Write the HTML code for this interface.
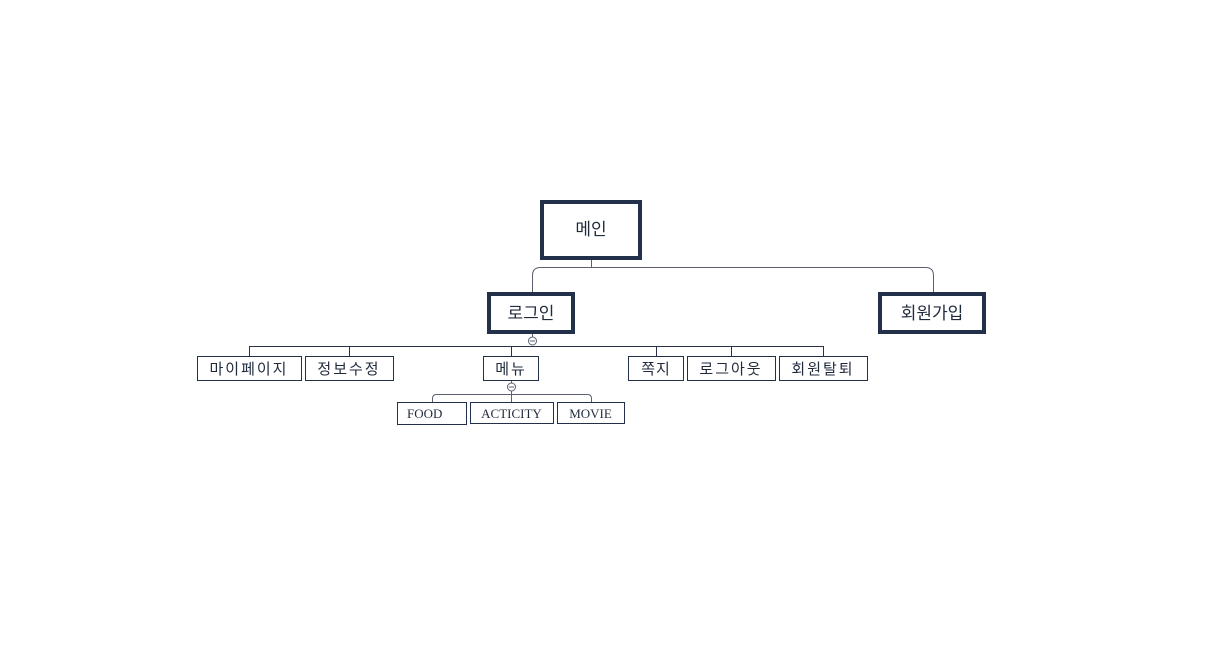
<!DOCTYPE html>
<html><head><meta charset="utf-8"><style>
html,body{margin:0;padding:0;background:#fff;}
svg{display:block}
.k{font-family:"Liberation Sans","Noto Sans CJK KR","NanumGothic",sans-serif;fill:#1f2a3c;}
.e{font-family:"Liberation Serif",serif;fill:#1f2a3c;}
</style></head><body>
<svg width="1217" height="670" viewBox="0 0 1217 670" xmlns="http://www.w3.org/2000/svg">
<g fill="none" stroke="#5a6070" stroke-width="1">
<path d="M591.5 260 V267.5"/>
<path d="M532.5 292 V275.5 Q532.5 267.5 540.5 267.5 H925.5 Q933.5 267.5 933.5 275.5 V292"/>
<path d="M532.5 334 V337"/>
<path d="M249.5 356 V346.5 H823.5 V356" stroke="#2a3345"/>
<path d="M349.5 346 V356 M511.5 346 V356 M656.5 346 V356 M731.5 346 V356" stroke="#2a3345"/>
<circle cx="532.5" cy="341" r="4" fill="#fff"/>
<path d="M530 341 H535"/>
<path d="M511.5 380 V383"/>
<circle cx="511.5" cy="387" r="4" fill="#fff"/>
<path d="M509 387 H514"/>
<path d="M432.5 402 V398.5 Q432.5 394.5 436.5 394.5 H587.5 Q591.5 394.5 591.5 398.5 V402 M511.5 391 V402"/>
</g>
<g fill="#fff" stroke="#233049" stroke-width="4">
<rect x="542" y="202" width="98" height="56"/>
<rect x="489" y="294" width="84" height="38"/>
<rect x="880" y="294" width="104" height="38"/>
</g>
<g fill="#fff" stroke="#233049" stroke-width="1">
<rect x="197.5" y="356.5" width="104" height="24"/>
<rect x="305.5" y="356.5" width="88" height="24"/>
<rect x="483.5" y="356.5" width="55" height="24"/>
<rect x="628.5" y="356.5" width="55" height="24"/>
<rect x="687.5" y="356.5" width="88" height="24"/>
<rect x="779.5" y="356.5" width="88" height="24"/>
<rect x="397.5" y="402.5" width="69" height="22"/>
<rect x="470.5" y="402.5" width="83" height="21"/>
<rect x="557.5" y="402.5" width="67" height="21"/>
</g>
<g class="k" text-anchor="middle">
<text x="591" y="235" font-size="17">메인</text>
<text x="531" y="319" font-size="17">로그인</text>
<text x="932" y="319" font-size="17">회원가입</text>
<text x="249" y="374" font-size="15" letter-spacing="2">마이페이지</text>
<text x="349" y="374" font-size="15" letter-spacing="2">정보수정</text>
<text x="511" y="374" font-size="15" letter-spacing="2">메뉴</text>
<text x="656" y="374" font-size="15" letter-spacing="1">쪽지</text>
<text x="731" y="374" font-size="15" letter-spacing="2">로그아웃</text>
<text x="823" y="374" font-size="15" letter-spacing="2">회원탈퇴</text>
</g>
<g class="e" font-size="13">
<text x="407" y="418">FOOD</text>
<text x="511.5" y="418" text-anchor="middle">ACTICITY</text>
<text x="590.5" y="418" text-anchor="middle">MOVIE</text>
</g>
</svg>
</body></html>
